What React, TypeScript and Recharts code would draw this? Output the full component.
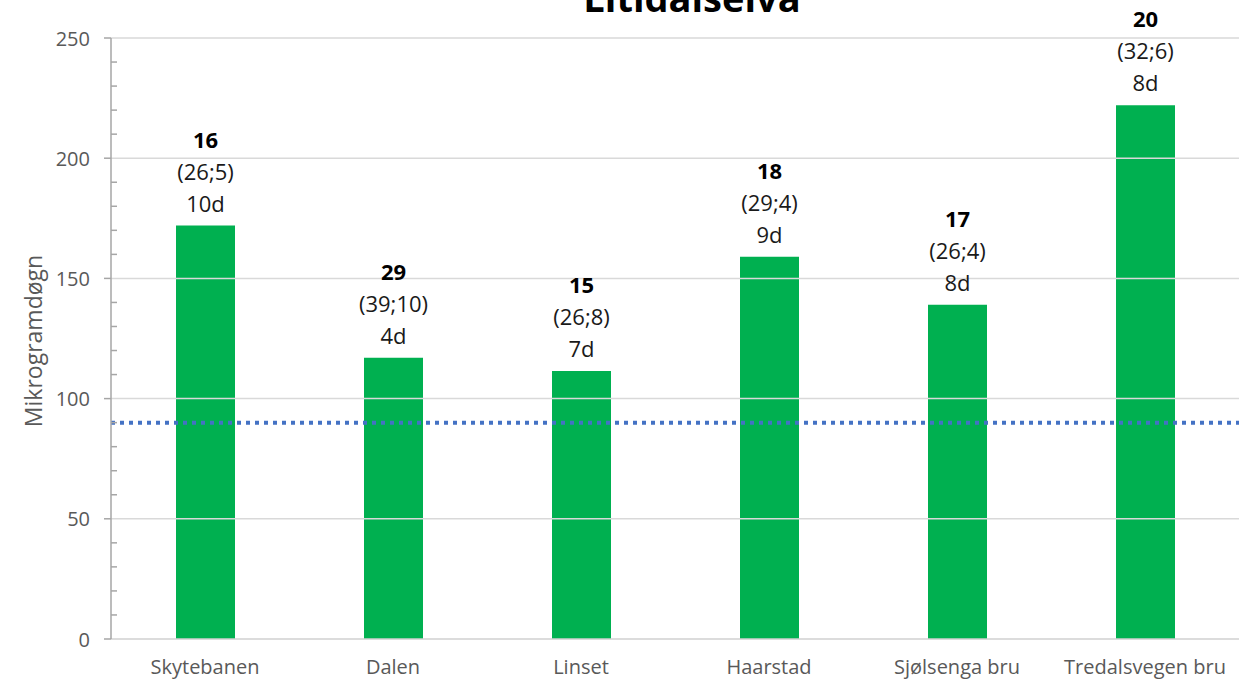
import React from 'react';
import {
  ComposedChart,
  Bar,
  XAxis,
  YAxis,
  ReferenceLine,
  LabelList,
} from 'recharts';

const categories = ['Skytebanen', 'Dalen', 'Linset', 'Haarstad', 'Sjølsenga bru', 'Tredalsvegen bru'];
const values = [172, 117, 111.5, 159, 139, 222];
const counts = ['16', '29', '15', '18', '17', '20'];
const ranges = ['(26;5)', '(39;10)', '(26;8)', '(29;4)', '(26;4)', '(32;6)'];
const days = ['10d', '4d', '7d', '9d', '8d', '8d'];
const threshold = 90;
const yTicks = [0, 10, 20, 30, 40, 50, 60, 70, 80, 90, 100, 110, 120, 130, 140, 150, 160, 170, 180, 190, 200, 210, 220, 230, 240, 250];
const gridValues = [50, 100, 150, 200, 250];
const title = 'Litidalselva';
const yTitle = 'Mikrogramdøgn';

const data = categories.map((name, i) => ({ name, value: values[i] }));

const FONT = "'Open Sans', sans-serif";

const YTick = (props: any) => {
  const { x, y, payload } = props;
  const v = payload.value;
  if (v % 50 === 0) {
    return (
      <g>
        <line x1={x - 7} x2={x} y1={y} y2={y} stroke="#a6a6a6" strokeWidth={1.5} />
        <text x={x - 21} y={y} textAnchor="end" dominantBaseline="central" fontSize={20} fill="#595959" fontFamily={FONT}>
          {v}
        </text>
      </g>
    );
  }
  return <line x1={x} x2={x + 6} y1={y} y2={y} stroke="#a6a6a6" strokeWidth={1.5} />;
};

const XTick = (props: any) => {
  const { x, y, payload } = props;
  return (
    <text x={x} y={y + 27} textAnchor="middle" dominantBaseline="central" fontSize={20} fill="#595959" fontFamily={FONT}>
      {payload.value}
    </text>
  );
};

const BarLabel = (props: any) => {
  const { x, y, width, value } = props;
  const i = categories.indexOf(value);
  if (i < 0) return null;
  const cx = x + width / 2;
  return (
    <g fontFamily={FONT} fontSize={22} textAnchor="middle">
      <text x={cx} y={y - 87} dominantBaseline="central" fontWeight="bold" fill="#000">
        {counts[i]}
      </text>
      <text x={cx} y={y - 55} dominantBaseline="central" fill="#1a1a1a">
        {ranges[i]}
      </text>
      <text x={cx} y={y - 23} dominantBaseline="central" fill="#1a1a1a">
        {days[i]}
      </text>
    </g>
  );
};

export default function App() {
  return (
    <div style={{ position: 'absolute', left: 0, top: 0, width: 1239, height: 679, background: '#fff' }}>
      <ComposedChart
        width={1239}
        height={679}
        data={data}
        margin={{ top: 38, right: 0, bottom: 0, left: 0 }}
      >
        {gridValues.map((g) => (
          <ReferenceLine key={g} y={g} stroke="#d9d9d9" strokeWidth={1.5} />
        ))}
        <XAxis
          dataKey="name"
          height={40}
          axisLine={{ stroke: '#d0d0d0', strokeWidth: 1.5 }}
          tickLine={false}
          tickSize={0}
          tickMargin={0}
          tick={<XTick />}
          interval={0}
        />
        <YAxis
          width={111}
          domain={[0, 250]}
          ticks={yTicks}
          interval={0}
          tickSize={0}
          tickMargin={0}
          tickLine={false}
          axisLine={{ stroke: '#a6a6a6', strokeWidth: 1.5 }}
          tick={<YTick />}
        />
        <Bar dataKey="value" fill="#00B050" barSize={59} isAnimationActive={false}>
          <LabelList dataKey="name" content={<BarLabel />} />
        </Bar>
        <ReferenceLine y={threshold} stroke="#4472C4" strokeWidth={4} strokeDasharray="4 5" />
        <text x={692} y={12} textAnchor="middle" fontSize={38} fontWeight="bold" fill="#000" fontFamily={FONT}>
          {title}
        </text>
        <text
          x={33}
          y={341}
          textAnchor="middle"
          dominantBaseline="central"
          fontSize={23}
          fill="#595959"
          fontFamily={FONT}
          transform="rotate(-90 33 341)"
        >
          {yTitle}
        </text>
      </ComposedChart>
    </div>
  );
}
